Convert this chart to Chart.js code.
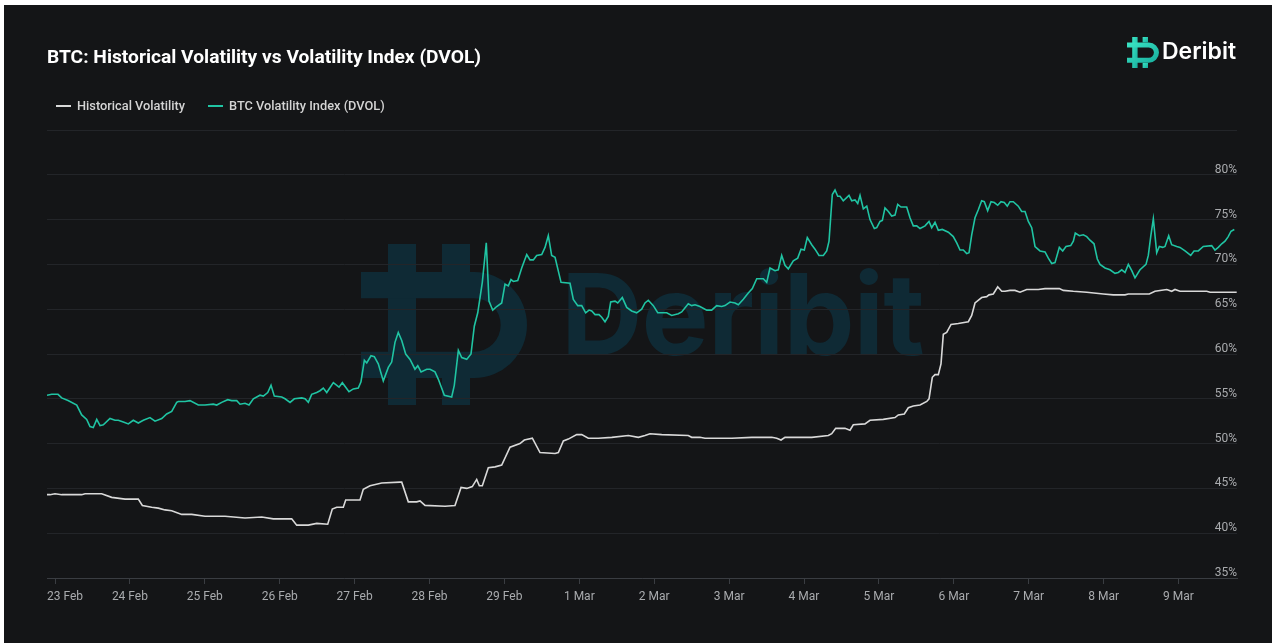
<!DOCTYPE html>
<html>
<head>
<meta charset="utf-8">
<script src="https://cdn.jsdelivr.net/npm/chart.js@4.4.1/dist/chart.umd.min.js"></script>
<style>
  html, body { margin: 0; padding: 0; background: #ffffff; width: 1277px; height: 643px; overflow: hidden; }
  #frame { position: absolute; left: 4px; top: 5px; width: 1268px; height: 638px; background: #141517; }
  #wm { position: absolute; left: 0; top: 0; width: 1277px; height: 643px; }
  #wmText { position: absolute; left: 561px; top: 258px; font-family: Inter, 'Noto Sans', sans-serif; font-weight: 700; font-size: 113px; line-height: 113px; color: #0f2a35; letter-spacing: -1px; white-space: nowrap; }
  canvas { position: absolute; left: 0; top: 0; }
  #title { position: absolute; left: 47px; top: 47px; font-family: Roboto, sans-serif; font-weight: 700; font-size: 19.2px; line-height: 20px; color: #ffffff; white-space: nowrap; }
  .leg { position: absolute; top: 99px; font-family: Roboto, sans-serif; font-weight: 500; font-size: 12.8px; line-height: 13px; color: #d4d4d4; white-space: nowrap; }
  .legLine { position: absolute; top: 105px; width: 15px; height: 2px; }
  #logoText { position: absolute; left: 1162px; top: 40px; font-family: Inter, sans-serif; font-weight: 600; font-size: 23px; line-height: 23px; color: #ffffff; white-space: nowrap; }
</style>
</head>
<body>
<div id="frame"></div>
<svg id="wm" width="1277" height="643" viewBox="0 0 1277 643">
  <g transform="translate(361,244)" fill="#0f2a35">
    <rect x="27" y="0" width="28" height="161"/>
    <rect x="81" y="0" width="28" height="28"/>
    <rect x="81" y="134" width="28" height="27"/>
    <path d="M0 28 H113 A53 53 0 0 1 113 134 H0 V107.7 H113 A26.7 26.7 0 0 0 113 54.3 H0 Z"/>
  </g>
</svg>
<div id="wmText">Deribit</div>
<canvas id="c" width="1277" height="643"></canvas>
<div id="title">BTC: Historical Volatility vs Volatility Index (DVOL)</div>
<div class="legLine" style="left:56px;background:#d9d9d9"></div>
<div class="leg" style="left:77px">Historical Volatility</div>
<div class="legLine" style="left:208px;background:#20c4a3"></div>
<div class="leg" style="left:229px">BTC Volatility Index (DVOL)</div>
<svg style="position:absolute;left:1127px;top:37px" width="32" height="31" viewBox="0 0 166 161">
  <defs>
    <linearGradient id="lg" x1="0" y1="0" x2="1" y2="1">
      <stop offset="0" stop-color="#3be6c6"/>
      <stop offset="1" stop-color="#17ad9c"/>
    </linearGradient>
  </defs>
  <g fill="url(#lg)">
    <rect x="27" y="0" width="28" height="161"/>
    <rect x="81" y="0" width="28" height="28"/>
    <rect x="81" y="134" width="28" height="27"/>
    <path d="M0 28 H113 A53 53 0 0 1 113 134 H0 V107.7 H113 A26.7 26.7 0 0 0 113 54.3 H0 Z"/>
  </g>
</svg>
<div id="logoText">Deribit</div>
<script>
// ---- data (time in days since 23 Feb 00:00) ----
const tickLabels = ['23 Feb','24 Feb','25 Feb','26 Feb','27 Feb','28 Feb','29 Feb','1 Mar','2 Mar','3 Mar','4 Mar','5 Mar','6 Mar','7 Mar','8 Mar','9 Mar'];
const seriesNames = ['Historical Volatility', 'BTC Volatility Index (DVOL)'];

const hvTime = [-0.107,-0.067,0.000,0.089,0.356,0.401,0.623,0.757,0.935,1.112,
1.166,1.291,1.379,1.469,1.558,1.692,1.825,2.003,2.270,2.537,
2.760,2.915,3.160,3.227,3.382,3.494,3.641,3.702,3.761,3.849,
3.881,4.072,4.116,4.206,4.362,4.606,4.629,4.717,4.829,4.873,
4.940,5.207,5.340,5.421,5.497,5.571,5.630,5.665,5.705,5.785,
5.875,5.964,6.075,6.208,6.266,6.373,6.475,6.676,6.720,6.787,
6.853,6.965,7.032,7.120,7.254,7.433,7.655,7.788,7.877,7.944,
8.100,8.455,8.500,8.611,8.678,8.856,9.035,9.302,9.569,9.636,
9.693,9.746,9.969,10.103,10.325,10.370,10.423,10.547,10.614,10.658,
10.814,10.881,11.058,11.215,11.259,11.339,11.393,11.459,11.549,11.639,
11.669,11.713,11.749,11.793,11.829,11.860,11.905,11.963,12.060,12.194,
12.239,12.283,12.372,12.439,12.470,12.527,12.550,12.586,12.640,12.684,
12.750,12.817,12.884,12.973,13.128,13.218,13.374,13.409,13.462,13.596,
13.775,13.996,14.129,14.286,14.330,14.610,14.686,14.843,14.909,14.953,
15.020,15.377,15.421,15.777];
const hvValue = [44.3,44.3,44.4,44.3,44.3,44.4,44.4,44.0,43.8,43.8,
43.1,42.9,42.8,42.6,42.5,42.1,42.1,41.9,41.9,41.7,
41.8,41.6,41.6,40.9,40.9,41.1,41.0,42.7,42.9,42.9,
43.7,43.7,44.9,45.3,45.6,45.7,45.7,43.5,43.5,43.6,
43.1,43.0,43.1,45.1,45.0,45.2,46.0,45.3,45.3,47.3,
47.4,47.6,49.6,50.0,50.4,50.6,49.0,48.9,49.0,50.3,
50.5,51.0,51.0,50.6,50.6,50.7,50.9,50.7,50.9,51.1,
51.0,50.9,50.7,50.7,50.6,50.6,50.6,50.7,50.7,50.6,
50.4,50.7,50.7,50.7,50.9,51.1,51.7,51.7,51.5,52.1,
52.2,52.6,52.7,52.9,53.2,53.3,54.0,54.2,54.3,54.7,
55.0,57.4,57.7,57.7,58.9,62.2,62.4,63.3,63.4,63.6,
64.3,65.7,66.3,66.4,66.6,66.7,67.0,67.5,67.0,67.0,
67.1,67.1,66.9,67.2,67.2,67.3,67.3,67.3,67.1,67.0,
66.9,66.7,66.6,66.6,66.7,66.7,67.0,67.2,67.0,67.2,
67.0,67.0,66.9,66.9];

const dvolTime = [-0.107,-0.044,0.040,0.089,0.174,0.290,0.356,0.423,0.467,0.511,
0.557,0.601,0.645,0.734,0.801,0.845,0.912,0.979,1.045,1.112,
1.179,1.268,1.335,1.425,1.491,1.558,1.625,1.646,1.736,1.802,
1.913,2.003,2.113,2.159,2.226,2.306,2.359,2.426,2.470,2.537,
2.590,2.648,2.737,2.781,2.840,2.884,2.928,3.027,3.071,3.138,
3.195,3.294,3.338,3.382,3.427,3.494,3.538,3.582,3.628,3.716,
3.792,3.836,3.925,3.983,4.049,4.085,4.130,4.162,4.219,4.263,
4.316,4.383,4.450,4.495,4.539,4.583,4.629,4.682,4.740,4.806,
4.843,4.887,4.963,5.007,5.073,5.117,5.198,5.296,5.331,5.385,
5.430,5.497,5.554,5.598,5.644,5.705,5.758,5.794,5.844,5.897,
5.964,6.008,6.052,6.088,6.119,6.178,6.231,6.298,6.342,6.386,
6.431,6.498,6.542,6.586,6.631,6.676,6.756,6.876,6.920,6.979,
7.032,7.085,7.130,7.166,7.210,7.263,7.299,7.343,7.387,7.419,
7.477,7.513,7.574,7.633,7.699,7.766,7.833,7.877,7.921,7.988,
8.047,8.167,8.233,8.322,8.367,8.455,8.500,8.545,8.611,8.701,
8.767,8.834,8.901,8.945,9.012,9.079,9.123,9.190,9.256,9.310,
9.369,9.413,9.457,9.502,9.546,9.613,9.657,9.702,9.746,9.790,
9.857,9.916,9.960,10.004,10.044,10.103,10.147,10.200,10.258,10.303,
10.334,10.360,10.378,10.414,10.450,10.481,10.524,10.601,10.637,10.681,
10.717,10.748,10.792,10.838,10.881,10.939,10.971,11.015,11.046,11.081,
11.126,11.171,11.215,11.251,11.295,11.371,11.415,11.459,11.505,11.549,
11.616,11.669,11.705,11.749,11.793,11.846,11.927,11.993,12.039,12.083,
12.127,12.172,12.203,12.239,12.283,12.327,12.372,12.407,12.452,12.497,
12.541,12.586,12.630,12.674,12.714,12.750,12.794,12.861,12.906,12.951,
12.995,13.040,13.084,13.151,13.218,13.262,13.307,13.351,13.382,13.409,
13.454,13.498,13.561,13.596,13.622,13.676,13.729,13.775,13.818,13.872,
13.916,13.952,14.019,14.085,14.152,14.196,14.242,14.286,14.330,14.376,
14.419,14.486,14.566,14.597,14.629,14.664,14.709,14.744,14.790,14.820,
14.869,14.909,14.976,15.020,15.087,15.163,15.207,15.264,15.331,15.443,
15.487,15.531,15.577,15.621,15.664,15.701,15.745];
const dvolValue = [55.4,55.5,55.5,55.1,54.8,54.3,53.2,52.7,51.9,51.8,
52.7,52.0,52.1,52.8,52.6,52.6,52.4,52.2,52.6,52.3,
52.6,52.9,52.5,52.8,53.3,53.6,54.6,54.7,54.7,54.8,
54.3,54.3,54.4,54.3,54.6,54.9,54.8,54.8,54.4,54.5,
54.3,55.0,55.4,55.3,55.7,56.5,55.3,55.2,55.0,54.6,
55.0,55.1,55.0,54.6,55.5,55.7,55.9,56.2,55.7,56.8,
56.3,56.8,55.8,56.1,56.2,56.9,59.3,59.0,59.8,59.7,
58.9,57.0,58.5,59.1,61.3,62.4,61.5,60.0,59.4,58.3,
58.7,58.0,58.3,58.3,58.0,57.2,55.4,55.2,56.5,60.4,
59.6,59.4,60.0,63.1,64.6,68.0,72.4,65.9,64.9,65.3,
65.7,67.8,67.6,68.3,68.1,68.2,69.6,71.1,70.5,70.5,
71.0,71.1,71.9,73.2,71.0,70.8,68.0,67.9,66.1,65.4,
65.4,64.6,64.9,64.8,64.4,64.4,64.1,63.6,64.2,65.8,
65.9,65.7,66.3,65.2,64.8,64.6,65.0,65.7,66.0,65.4,
64.6,64.6,64.3,64.5,64.7,65.6,65.4,65.5,65.3,64.9,
64.9,65.4,65.3,65.4,65.8,65.7,65.5,66.1,66.8,67.3,
68.4,68.4,68.4,68.0,69.6,69.3,69.4,71.0,69.9,69.5,
70.4,70.7,71.7,71.6,73.0,72.2,71.7,71.0,71.0,71.5,
72.6,75.7,77.8,78.3,77.6,77.6,77.1,77.7,77.1,77.2,
76.8,77.7,76.2,76.5,75.0,74.0,74.1,74.8,74.9,76.3,
75.9,75.4,75.5,76.7,76.4,76.4,75.2,74.3,74.3,74.0,
74.3,74.8,74.1,74.7,73.8,73.9,73.6,73.1,72.4,71.6,
71.6,71.2,71.3,73.3,75.2,76.1,77.1,77.0,76.0,77.0,
76.9,76.6,77.0,76.9,76.5,77.0,77.0,76.5,75.9,75.9,
74.8,74.1,72.0,71.5,71.4,70.7,70.1,70.2,71.1,71.9,
71.5,72.0,72.1,72.6,73.5,73.2,73.3,73.1,72.7,72.3,
70.6,70.0,69.6,69.4,69.0,69.1,69.4,69.1,70.0,69.3,
68.5,69.4,70.0,71.0,73.1,75.1,71.3,72.0,71.9,72.0,
73.2,72.2,72.0,71.9,71.5,71.0,71.5,71.5,72.0,72.1,
71.6,71.9,72.3,72.6,73.1,73.7,73.9];

const xMin = -0.107, xMax = 15.781;
const yMin = 35, yMax = 85, yStep = 5;

// ---- styles ----
const HV_COLOR = '#d9d9d9';
const DVOL_COLOR = '#20c4a3';
const GRID_COLOR = '#232529';
const AXIS_COLOR = '#3a3d42';
const LABEL_COLOR = '#a9abae';

const firstLabelPlugin = {
  id: 'firstLabel',
  beforeDraw(chart) {
    const s = chart.scales.x;
    const items = s.getLabelItems(chart.chartArea);
    if (items && items.length) {
      items[0].options.textAlign = 'left';
      items[0].options.translation[0] = chart.chartArea.left;
    }
  }
};

const toPts = (t, v) => t.map((x, i) => ({ x, y: v[i] }));

new Chart(document.getElementById('c'), {
  type: 'line',
  data: {
    datasets: [
      { label: seriesNames[0], data: toPts(hvTime, hvValue), borderColor: HV_COLOR, backgroundColor: HV_COLOR, borderWidth: 1.6, pointRadius: 0, tension: 0 },
      { label: seriesNames[1], data: toPts(dvolTime, dvolValue), borderColor: DVOL_COLOR, backgroundColor: DVOL_COLOR, borderWidth: 1.6, pointRadius: 0, tension: 0 }
    ]
  },
  options: {
    responsive: false,
    animation: false,
    devicePixelRatio: 1,
    layout: { padding: { left: 47, right: 40, top: 130, bottom: 30 } },
    plugins: { legend: { display: false }, tooltip: { enabled: false }, title: { display: false } },
    scales: {
      x: {
        type: 'linear', min: xMin, max: xMax,
        grid: { drawOnChartArea: false, drawTicks: true, tickLength: 6, color: AXIS_COLOR },
        border: { display: true, color: AXIS_COLOR },
        ticks: {
          stepSize: 1, includeBounds: false, autoSkip: false, maxRotation: 0, padding: 6,
          color: LABEL_COLOR, font: { family: 'Roboto', size: 12 },
          callback: v => (tickLabels[v] !== undefined ? tickLabels[v] : '')
        },
        afterFit: s => { s.height = 35; }
      },
      y: {
        position: 'right', min: yMin, max: yMax,
        grid: { color: GRID_COLOR, drawTicks: false },
        border: { display: false },
        ticks: {
          stepSize: yStep, mirror: true, padding: 0, labelOffset: -5,
          color: LABEL_COLOR, font: { family: 'Roboto', size: 12 },
          callback: v => (v === yMax ? '' : v + '%')
        },
        afterFit: s => { s.width = 0; }
      }
    }
  },
  plugins: [firstLabelPlugin]
});
</script>
</body>
</html>
